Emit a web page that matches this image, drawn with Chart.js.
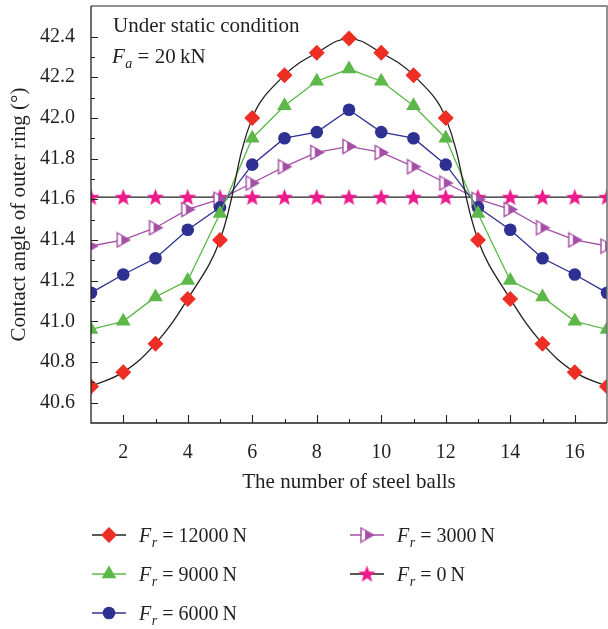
<!DOCTYPE html>
<html>
<head>
<meta charset="utf-8">
<title>Contact angle of outer ring</title>
<script src="https://cdn.jsdelivr.net/npm/chart.js@4.4.1/dist/chart.umd.min.js"></script>
<style>
  html, body { margin: 0; padding: 0; background: #fff; }
  #wrap { width: 608px; height: 629px; }
</style>
</head>
<body>
<div id="wrap"><canvas id="chart" width="608" height="629"></canvas></div>
<script>
// data
const ballNumbers = [1, 2, 3, 4, 5, 6, 7, 8, 9, 10, 11, 12, 13, 14, 15, 16, 17];
const fr12000 = [40.68, 40.75, 40.89, 41.11, 41.40, 42.00, 42.21, 42.32, 42.39, 42.32, 42.21, 42.00, 41.40, 41.11, 40.89, 40.75, 40.68];
const fr9000 = [40.96, 41.00, 41.12, 41.20, 41.53, 41.90, 42.06, 42.18, 42.24, 42.18, 42.06, 41.90, 41.53, 41.20, 41.12, 41.00, 40.96];
const fr6000 = [41.14, 41.23, 41.31, 41.45, 41.56, 41.77, 41.90, 41.93, 42.04, 41.93, 41.90, 41.77, 41.56, 41.45, 41.31, 41.23, 41.14];
const fr3000 = [41.37, 41.40, 41.46, 41.55, 41.60, 41.68, 41.76, 41.83, 41.86, 41.83, 41.76, 41.68, 41.60, 41.55, 41.46, 41.40, 41.37];
const fr0 = [41.61, 41.61, 41.61, 41.61, 41.61, 41.61, 41.61, 41.61, 41.61, 41.61, 41.61, 41.61, 41.61, 41.61, 41.61, 41.61, 41.61];
const loadLabels = ["12000", "9000", "6000", "3000", "0"];
const xTicks = [2, 4, 6, 8, 10, 12, 14, 16];
const yTicks = [40.6, 40.8, 41.0, 41.2, 41.4, 41.6, 41.8, 42.0, 42.2, 42.4];

const TEXT = "#231f20";
const SERIF = "'Liberation Serif', 'Times New Roman', serif";

function toPoints(values) {
  return ballNumbers.map((n, i) => ({ x: n, y: values[i] }));
}

function starImage(color) {
  const c = document.createElement("canvas");
  c.width = 19; c.height = 19;
  const g = c.getContext("2d");
  const outer = 9, inner = 3.8, cx = 9.5, cy = 10;
  g.beginPath();
  for (let i = 0; i < 10; i++) {
    const r = i % 2 ? inner : outer;
    const a = -Math.PI / 2 + i * Math.PI / 5;
    const px = cx + r * Math.cos(a), py = cy + r * Math.sin(a);
    i ? g.lineTo(px, py) : g.moveTo(px, py);
  }
  g.closePath();
  g.fillStyle = color;
  g.fill();
  return c;
}

function halfTriangleImage(color) {
  const c = document.createElement("canvas");
  c.width = 16; c.height = 17;
  const g = c.getContext("2d");
  const l = 2, r = 14.5, t = 1.5, b = 15.5, m = 8.5;
  g.beginPath();
  g.moveTo(l, t); g.lineTo(r, m); g.lineTo(l, b); g.closePath();
  g.fillStyle = "#fff";
  g.fill();
  // right part filled
  const split = l + (r - l) * 0.33;
  const k = (split - l) / (r - l);
  g.beginPath();
  g.moveTo(split, t + (m - t) * k);
  g.lineTo(r, m);
  g.lineTo(split, b - (b - m) * k);
  g.closePath();
  g.fillStyle = color;
  g.fill();
  g.beginPath();
  g.moveTo(l, t); g.lineTo(r, m); g.lineTo(l, b); g.closePath();
  g.strokeStyle = color;
  g.lineWidth = 1.4;
  g.stroke();
  return c;
}

const starPoint = starImage("#ec1a8a");
const halfTriPoint = halfTriangleImage("#a54ea5");

function drawForceLabel(ctx, x, y, sub, rest, size) {
  ctx.fillStyle = TEXT;
  ctx.textAlign = "left";
  ctx.textBaseline = "alphabetic";
  ctx.font = `italic ${size}px ${SERIF}`;
  ctx.fillText("F", x, y);
  x += ctx.measureText("F").width + 0.5;
  ctx.font = `italic ${Math.round(size * 0.68)}px ${SERIF}`;
  ctx.fillText(sub, x, y + 5);
  x += ctx.measureText(sub).width;
  ctx.font = `${size}px ${SERIF}`;
  ctx.fillText(rest, x, y);
}

const framePlugin = {
  id: "frame",
  afterDraw(chart) {
    const { ctx, chartArea: a, scales } = chart;
    const xs = scales.x, ys = scales.y;
    ctx.save();

    // top and right border
    ctx.strokeStyle = "#6d6e71";
    ctx.lineWidth = 1.5;
    ctx.beginPath();
    ctx.moveTo(a.left, a.top); ctx.lineTo(a.right, a.top); ctx.lineTo(a.right, a.bottom);
    ctx.stroke();

    // left and bottom axis
    ctx.strokeStyle = TEXT;
    ctx.lineWidth = 1.3;
    ctx.beginPath();
    ctx.moveTo(a.left, a.top); ctx.lineTo(a.left, a.bottom); ctx.lineTo(a.right, a.bottom);
    ctx.stroke();

    // inward ticks
    ctx.lineWidth = 1.1;
    ctx.beginPath();
    for (let v = 40.6; v <= 42.5; v += 0.1) {
      const major = Math.round(v * 10) % 2 === 0;
      const py = Math.round(ys.getPixelForValue(v)) + 0.5;
      ctx.moveTo(a.left, py); ctx.lineTo(a.left + (major ? 7 : 4), py);
    }
    for (let n = 2; n <= 16; n++) {
      const major = n % 2 === 0;
      const px = Math.round(xs.getPixelForValue(n)) + 0.5;
      ctx.moveTo(px, a.bottom); ctx.lineTo(px, a.bottom - (major ? 8 : 4));
    }
    ctx.stroke();

    // annotation
    ctx.fillStyle = TEXT;
    ctx.font = `21px ${SERIF}`;
    ctx.textAlign = "left";
    ctx.textBaseline = "alphabetic";
    ctx.fillText("Under static condition", 113, 32);
    drawForceLabel(ctx, 112, 63, "a", " = 20\u2009kN", 21);

    // legend
    const colX = [92, 350];
    const rowY = [535, 574, 613];
    const slots = [[0, 0], [0, 1], [0, 2], [1, 0], [1, 1]];
    chart.data.datasets.forEach((ds, i) => {
      const [c, r] = slots[i];
      const x0 = colX[c], y0 = rowY[r];
      ctx.strokeStyle = ds.borderColor;
      ctx.lineWidth = 1.3;
      ctx.beginPath();
      ctx.moveTo(x0, y0); ctx.lineTo(x0 + 34, y0);
      ctx.stroke();
      ctx.fillStyle = ds.pointBackgroundColor;
      ctx.strokeStyle = ds.pointBorderColor;
      Chart.helpers.drawPoint(ctx, {
        pointStyle: ds.pointStyle, radius: ds.pointRadius, rotation: 0, borderWidth: 0
      }, x0 + 17, y0);
      drawForceLabel(ctx, x0 + 47, y0 + 7, "r", ` = ${loadLabels[i]}\u2009N`, 20);
    });

    ctx.restore();
  }
};

const lineBase = { borderWidth: 1.3, pointBorderWidth: 0, pointHoverRadius: 0, clip: 0 };

new Chart(document.getElementById("chart"), {
  type: "line",
  data: {
    datasets: [
      { ...lineBase, label: "Fr = 12000 N", data: toPoints(fr12000), borderColor: "#231f20",
        pointStyle: "rectRot", pointRadius: 8, pointBackgroundColor: "#ee2e24", pointBorderColor: "#ee2e24",
        tension: 0.4 },
      { ...lineBase, label: "Fr = 9000 N", data: toPoints(fr9000), borderColor: "#5cb848",
        pointStyle: "triangle", pointRadius: 8.5, pointBackgroundColor: "#5cb848", pointBorderColor: "#5cb848" },
      { ...lineBase, label: "Fr = 6000 N", data: toPoints(fr6000), borderColor: "#2e3092",
        pointStyle: "circle", pointRadius: 6.3, pointBackgroundColor: "#2e3092", pointBorderColor: "#2e3092" },
      { ...lineBase, label: "Fr = 3000 N", data: toPoints(fr3000), borderColor: "#a54ea5",
        pointStyle: halfTriPoint, pointRadius: 8, pointBackgroundColor: "#a54ea5", pointBorderColor: "#a54ea5" },
      { ...lineBase, label: "Fr = 0 N", data: toPoints(fr0), borderColor: "#231f20",
        pointStyle: starPoint, pointRadius: 9, pointBackgroundColor: "#ec1a8a", pointBorderColor: "#ec1a8a" }
    ]
  },
  options: {
    responsive: false,
    animation: false,
    events: [],
    layout: { autoPadding: false, padding: { top: 6, right: 1, left: 0, bottom: 134 } },
    plugins: { legend: { display: false }, tooltip: { enabled: false } },
    scales: {
      x: {
        type: "linear",
        min: 1, max: 17,
        grid: { display: false },
        border: { display: false },
        afterBuildTicks: (s) => { s.ticks = xTicks.map(v => ({ value: v })); },
        afterFit: (s) => { s.height = 72; s.paddingLeft = 0; s.paddingRight = 0; },
        ticks: { color: TEXT, padding: 10, font: { family: SERIF, size: 20 } },
        title: { display: true, text: "The number of steel balls", color: TEXT,
                 padding: { top: 0, bottom: 0 }, font: { family: SERIF, size: 21 } }
      },
      y: {
        min: 40.5, max: 42.55,
        grid: { display: false },
        border: { display: false },
        afterBuildTicks: (s) => { s.ticks = yTicks.map(v => ({ value: v })); },
        afterFit: (s) => { s.width = 91; s.paddingTop = 0; s.paddingBottom = 0; },
        ticks: { color: TEXT, padding: 8, font: { family: SERIF, size: 20 },
                 callback: (v) => v.toFixed(1) },
        title: { display: true, text: "Contact angle of outer ring (°)", color: TEXT,
                 padding: { top: 7, bottom: 0 }, font: { family: SERIF, size: 21 } }
      }
    }
  },
  plugins: [framePlugin]
});
</script>
</body>
</html>
